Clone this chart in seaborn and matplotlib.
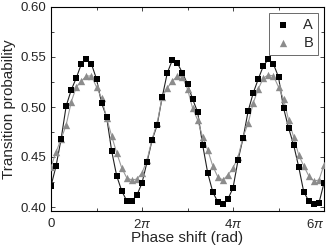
import numpy as np
import pandas as pd
import matplotlib
matplotlib.use("Agg")
import matplotlib.pyplot as plt
import seaborn as sns
from matplotlib.ticker import MultipleLocator, FixedLocator

# Data: 55 points, step pi/9 from 0 to 6*pi
step_index = list(range(55))

prob_a = [0.421, 0.441, 0.468, 0.501, 0.517, 0.529, 0.543, 0.548, 0.543, 0.528,
          0.504, 0.490, 0.456, 0.431, 0.416, 0.406, 0.406, 0.412, 0.424, 0.445,
          0.467, 0.482, 0.510, 0.534, 0.547, 0.544, 0.534, 0.523, 0.508, 0.495,
          0.462, 0.434, 0.415, 0.405, 0.403, 0.408, 0.419, 0.447, 0.469, 0.496,
          0.514, 0.528, 0.541, 0.548, 0.543, 0.530, 0.499, 0.479, 0.462, 0.440,
          0.415, 0.406, 0.403, 0.404, 0.424]

prob_b = [0.440, 0.455, 0.468, 0.482, 0.505, 0.520, 0.526, 0.531, 0.531, 0.520,
          0.509, 0.489, 0.471, 0.454, 0.439, 0.429, 0.427, 0.428, 0.434, 0.447,
          0.468, 0.484, 0.510, 0.519, 0.526, 0.531, 0.530, 0.518, 0.499, 0.487,
          0.470, 0.457, 0.441, 0.430, 0.427, 0.432, 0.439, 0.450, 0.470, 0.484,
          0.504, 0.518, 0.529, 0.532, 0.531, 0.520, 0.508, 0.487, 0.470, 0.452,
          0.441, 0.431, 0.426, 0.427, 0.442]

series_names = ["A", "B"]
x_tick_labels = ["0", r"2$\pi$", r"4$\pi$", r"6$\pi$"]

phase = np.array(step_index) * np.pi / 9

df = pd.DataFrame({
    "phase": np.concatenate([phase, phase]),
    "prob": prob_a + prob_b,
    "series": ["A"] * len(prob_a) + ["B"] * len(prob_b),
})

sns.set_style("ticks")
plt.rcParams["font.family"] = ["Liberation Sans", "DejaVu Sans"]
plt.rcParams["mathtext.fontset"] = "custom"
plt.rcParams["mathtext.rm"] = "Liberation Sans"
plt.rcParams["mathtext.it"] = "Liberation Sans:italic"

fig = plt.figure(figsize=(3.27, 2.49), dpi=100)
ax = fig.add_axes([51 / 327, 1 - 211 / 249, 273 / 327, 204 / 249])

line_colors = {"A": "#202020", "B": "#9a9a9a"}
mark_colors = {"A": "black", "B": "#8c8c8c"}

sns.lineplot(data=df, x="phase", y="prob", hue="series", palette=line_colors,
             linewidth=0.8, legend=False, ax=ax, sort=True)
sns.scatterplot(data=df[df.series == "B"], x="phase", y="prob", color=mark_colors["B"],
                marker="^", s=28, linewidth=0, label="B", ax=ax, zorder=3)
sns.scatterplot(data=df[df.series == "A"], x="phase", y="prob", color=mark_colors["A"],
                marker="s", s=16, linewidth=0, label="A", ax=ax, zorder=4)

ax.set_xlim(0, 6 * np.pi)
ax.set_ylim(0.396, 0.60)
ax.xaxis.set_major_locator(FixedLocator([0, 2 * np.pi, 4 * np.pi, 6 * np.pi]))
ax.xaxis.set_minor_locator(FixedLocator([np.pi, 3 * np.pi, 5 * np.pi]))
ax.set_xticklabels(x_tick_labels)
ax.yaxis.set_major_locator(MultipleLocator(0.05))
ax.yaxis.set_minor_locator(MultipleLocator(0.025))
ax.yaxis.set_major_formatter(matplotlib.ticker.FormatStrFormatter("%.2f"))

ax.tick_params(which="both", direction="in", top=True, right=True, width=0.6,
               labelsize=9.5)
ax.tick_params(axis="x", pad=5)
ax.tick_params(which="major", length=3)
ax.tick_params(which="minor", length=2)
ax.get_xticklabels()[-1].set_horizontalalignment("right")
for sp in ax.spines.values():
    sp.set_linewidth(0.8)
    sp.set_color("black")

ax.set_xlabel("Phase shift (rad)", fontsize=11, labelpad=0)
ax.set_ylabel("Transition probability", fontsize=11, labelpad=3)

handles, labels = ax.get_legend_handles_labels()
order = [labels.index("A"), labels.index("B")]
leg = ax.legend([handles[i] for i in order], [labels[i] for i in order],
                loc="upper right", fontsize=10.5, frameon=True, fancybox=False,
                edgecolor="#444444", borderaxespad=0.4, handletextpad=0.8,
                handlelength=1.2, borderpad=0.35, labelspacing=0.25)
leg.get_frame().set_linewidth(0.7)

fig.savefig("out.png", dpi=100)
